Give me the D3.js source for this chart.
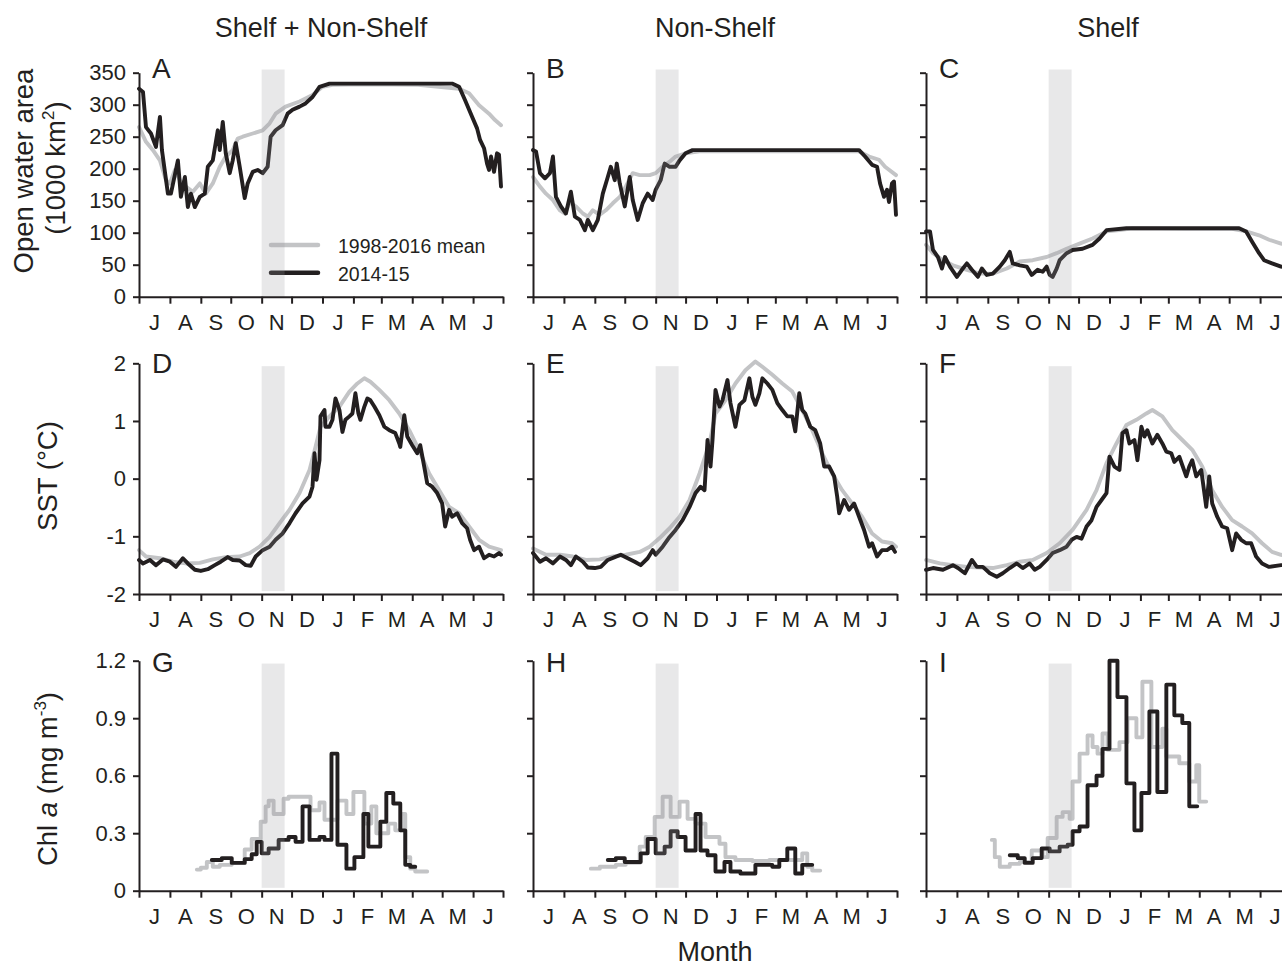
<!DOCTYPE html>
<html><head><meta charset="utf-8">
<script src="https://cdn.jsdelivr.net/npm/d3@7"></script>
<style>
body{margin:0;background:#fff}
svg{display:block}
text{font-family:"Liberation Sans",Arial,Helvetica,sans-serif;fill:#231f20}
</style>
</head><body>
<svg id="chart" width="1282" height="966"></svg>
<script>
// ---------- categories / labels ----------
const months = ["J","A","S","O","N","D","J","F","M","A","M","J"];
const columnTitles = ["Shelf + Non-Shelf","Non-Shelf","Shelf"];
const panelLetters = [["A","B","C"],["D","E","F"],["G","H","I"]];
const seriesNames = ["1998-2016 mean","2014-15"];
const areaTicks = [0,50,100,150,200,250,300,350];
const sstTicks = [-2,-1,0,1,2];
const chlTicks = [0,0.3,0.6,0.9,1.2];
const bandDays = [123,146]; // shaded period (days since 1 July 2014)

// ---------- data: [days since 1 July 2014, value] ----------
// Open water area (1000 km2)
const areaAll1415 = [[0,325],[4,320],[7,265],[12,255],[17,234],[21,281],[23,229],[29,161],[32,161],[39,213],[42,156],[46,187],[49,140],[52,161],[56,140],[61,156],[66,161],[69,203],[74,213],[79,260],[81,229],[84,273],[87,224],[91,193],[94,213],[97,240],[101,203],[106,154],[109,177],[114,195],[119,198],[124,193],[129,203],[132,250],[137,260],[144,268],[149,286],[154,292],[161,297],[167,302],[174,312],[181,328],[191,333],[250,333],[290,333],[314,333],[321,328],[327,307],[334,281],[339,263],[342,245],[346,232],[349,208],[351,198],[353,219],[356,195],[359,224],[361,222],[363,172]];
const areaAllMean = [[0,265],[7,242],[14,229],[21,213],[27,182],[31,177],[36,198],[41,182],[47,172],[54,164],[61,177],[67,161],[74,177],[81,203],[87,219],[94,229],[99,247],[104,250],[114,255],[124,260],[131,271],[137,286],[147,297],[161,305],[174,315],[184,328],[194,331],[227,332],[280,331],[321,325],[331,318],[341,299],[351,286],[357,276],[363,268]];
const areaNon1415 = [[0,229],[3,227],[7,193],[12,185],[17,193],[20,219],[23,156],[28,141],[33,130],[38,164],[42,125],[47,120],[52,104],[55,120],[60,104],[65,120],[70,161],[75,187],[78,203],[82,182],[84,208],[87,177],[92,141],[97,187],[100,151],[105,120],[110,146],[115,161],[120,151],[123,167],[128,182],[132,208],[137,203],[143,203],[147,213],[153,224],[160,229],[250,229],[327,229],[333,219],[340,206],[345,203],[348,177],[352,156],[355,167],[357,148],[360,177],[362,180],[364,128]];
const areaNonMean = [[0,187],[7,172],[13,161],[20,151],[27,135],[32,130],[37,148],[43,141],[50,130],[55,125],[60,135],[67,128],[73,135],[80,146],[87,156],[93,172],[100,193],[107,190],[117,190],[123,193],[130,203],[137,211],[143,219],[153,224],[167,227],[250,227],[327,227],[337,219],[347,214],[353,203],[364,190]];
const areaShelf1415 = [[0,102],[4,102],[7,73],[12,62],[16,44],[19,62],[24,47],[31,31],[36,42],[41,52],[46,42],[52,31],[56,44],[61,34],[67,36],[74,47],[79,57],[84,70],[87,52],[94,49],[101,47],[106,34],[112,42],[117,39],[121,47],[124,34],[127,31],[131,44],[134,57],[141,68],[147,73],[157,75],[167,81],[174,91],[181,104],[201,107],[260,107],[314,107],[321,102],[327,86],[334,68],[339,57],[347,52],[356,47],[364,46]];
const areaShelfMean = [[0,81],[7,68],[17,57],[27,49],[41,42],[54,36],[67,36],[81,44],[94,55],[107,57],[121,62],[131,68],[141,75],[154,83],[167,91],[181,102],[194,104],[207,107],[260,106],[307,106],[321,102],[334,96],[344,89],[356,83],[364,80]];

// SST (°C)
const sstAll1415 = [[0,-1.41],[4,-1.47],[11,-1.41],[17,-1.50],[24,-1.40],[31,-1.44],[37,-1.53],[44,-1.38],[49,-1.47],[56,-1.58],[62,-1.60],[69,-1.57],[76,-1.50],[82,-1.44],[89,-1.36],[94,-1.41],[101,-1.42],[107,-1.50],[112,-1.51],[117,-1.35],[124,-1.24],[131,-1.18],[137,-1.06],[144,-0.95],[151,-0.77],[157,-0.60],[164,-0.43],[171,-0.31],[174,-0.14],[176,0.44],[178,-0.02],[181,0.32],[182,1.08],[186,1.19],[187,0.90],[191,0.90],[194,1.02],[197,1.39],[201,1.19],[204,0.81],[207,1.02],[211,1.08],[214,1.13],[217,1.48],[220,1.13],[222,1.02],[226,1.25],[229,1.39],[232,1.36],[236,1.25],[241,1.10],[246,0.90],[251,0.84],[257,0.79],[261,0.61],[262,0.55],[266,1.10],[269,0.73],[274,0.58],[279,0.44],[282,0.58],[286,0.21],[289,-0.08],[294,-0.14],[299,-0.25],[304,-0.43],[307,-0.83],[311,-0.54],[314,-0.66],[319,-0.60],[324,-0.77],[329,-0.86],[332,-1.06],[336,-1.24],[341,-1.18],[346,-1.38],[351,-1.32],[356,-1.35],[361,-1.29],[363,-1.32]];
const sstAllMean = [[0,-1.24],[7,-1.35],[21,-1.38],[34,-1.44],[47,-1.47],[61,-1.46],[74,-1.40],[87,-1.36],[101,-1.35],[111,-1.29],[121,-1.18],[131,-1.01],[141,-0.77],[151,-0.54],[161,-0.25],[171,0.15],[177,0.55],[182,0.90],[191,1.08],[201,1.25],[211,1.51],[219,1.65],[226,1.74],[232,1.68],[241,1.54],[251,1.36],[261,1.13],[271,0.84],[281,0.49],[291,0.09],[301,-0.20],[311,-0.49],[321,-0.60],[331,-0.83],[341,-1.06],[351,-1.18],[363,-1.24]];
const sstNon1415 = [[0,-1.29],[7,-1.44],[13,-1.38],[20,-1.47],[27,-1.35],[33,-1.41],[38,-1.50],[43,-1.35],[50,-1.44],[55,-1.54],[62,-1.55],[68,-1.53],[75,-1.41],[82,-1.36],[88,-1.32],[95,-1.38],[102,-1.44],[108,-1.50],[115,-1.38],[120,-1.24],[123,-1.32],[130,-1.18],[137,-1.01],[143,-0.89],[150,-0.72],[157,-0.49],[163,-0.25],[168,-0.14],[172,-0.20],[175,0.67],[178,0.21],[180,0.67],[183,1.54],[187,1.25],[190,1.36],[195,1.71],[198,1.31],[203,0.90],[207,1.28],[212,1.36],[217,1.74],[220,1.42],[223,1.28],[227,1.48],[230,1.74],[235,1.65],[240,1.54],[245,1.31],[250,1.19],[255,1.08],[260,1.08],[263,0.82],[267,1.48],[270,1.19],[273,1.13],[278,0.90],[283,0.84],[288,0.61],[292,0.21],[297,0.21],[302,0.04],[305,-0.31],[307,-0.60],[312,-0.37],[317,-0.54],[322,-0.43],[327,-0.66],[332,-0.89],[337,-1.18],[340,-1.12],[345,-1.35],[350,-1.24],[355,-1.24],[360,-1.18],[363,-1.27]];
const sstNonMean = [[0,-1.21],[13,-1.32],[27,-1.32],[40,-1.35],[53,-1.41],[67,-1.40],[80,-1.35],[93,-1.32],[107,-1.27],[117,-1.18],[127,-1.03],[137,-0.86],[147,-0.66],[157,-0.37],[167,0.09],[177,0.61],[183,1.13],[193,1.36],[203,1.65],[213,1.88],[223,2.03],[230,1.94],[240,1.80],[250,1.65],[260,1.51],[270,1.19],[280,0.84],[290,0.44],[300,0.09],[310,-0.20],[320,-0.43],[330,-0.66],[340,-0.95],[350,-1.09],[360,-1.12],[364,-1.18]];
const sstShelf1415 = [[0,-1.58],[7,-1.55],[17,-1.58],[27,-1.50],[32,-1.55],[39,-1.64],[46,-1.41],[51,-1.53],[57,-1.53],[64,-1.64],[71,-1.70],[77,-1.64],[84,-1.55],[91,-1.47],[97,-1.55],[104,-1.47],[109,-1.58],[114,-1.53],[121,-1.41],[127,-1.29],[134,-1.24],[141,-1.18],[146,-1.06],[151,-1.01],[156,-1.04],[161,-0.83],[166,-0.72],[171,-0.49],[176,-0.37],[181,-0.25],[184,0.38],[189,0.21],[194,0.15],[197,0.79],[201,0.84],[204,0.61],[209,0.67],[212,0.32],[216,0.90],[219,0.73],[222,0.84],[227,0.61],[232,0.76],[237,0.61],[241,0.47],[246,0.44],[249,0.29],[254,0.38],[261,0.04],[264,0.21],[267,0.32],[271,0.04],[276,0.15],[281,-0.49],[284,0.04],[287,-0.43],[292,-0.66],[297,-0.83],[302,-0.86],[307,-1.24],[311,-0.95],[316,-1.06],[321,-1.12],[326,-1.12],[331,-1.35],[337,-1.47],[344,-1.53],[356,-1.50],[364,-1.50]];
const sstShelfMean = [[0,-1.41],[14,-1.47],[27,-1.50],[41,-1.53],[54,-1.54],[67,-1.55],[81,-1.50],[94,-1.44],[107,-1.41],[121,-1.29],[134,-1.12],[147,-0.89],[161,-0.54],[171,-0.20],[181,0.27],[191,0.61],[201,0.93],[211,1.02],[221,1.13],[227,1.19],[237,1.08],[247,0.84],[257,0.67],[267,0.50],[277,0.21],[287,-0.20],[297,-0.49],[307,-0.72],[317,-0.83],[327,-0.95],[337,-1.12],[347,-1.27],[356,-1.32],[364,-1.34]];

// Chl a (mg m-3), step composites [start day, value]
const chlAll1415 = [[73,0.16],[83,0.17],[93,0.145],[106,0.165],[113,0.19],[118,0.255],[123,0.195],[130,0.22],[140,0.265],[150,0.28],[157,0.255],[164,0.44],[171,0.265],[181,0.28],[186,0.265],[193,0.715],[199,0.24],[208,0.115],[216,0.175],[225,0.40],[230,0.23],[242,0.36],[248,0.51],[255,0.455],[262,0.315],[267,0.135],[272,0.125],[277,0.125]];
const chlAllMean = [[58,0.11],[62,0.12],[68,0.15],[74,0.125],[81,0.135],[93,0.145],[106,0.215],[113,0.27],[122,0.36],[127,0.44],[130,0.47],[135,0.40],[145,0.48],[150,0.49],[172,0.42],[181,0.46],[186,0.37],[199,0.47],[208,0.40],[215,0.515],[226,0.35],[233,0.44],[238,0.30],[250,0.35],[257,0.315],[263,0.40],[267,0.175],[272,0.115],[277,0.10],[289,0.10]];
const chlNon1415 = [[75,0.16],[83,0.17],[92,0.15],[108,0.195],[115,0.27],[123,0.195],[132,0.23],[138,0.31],[145,0.28],[153,0.21],[163,0.40],[168,0.21],[175,0.185],[183,0.10],[192,0.15],[198,0.10],[208,0.09],[223,0.135],[240,0.125],[247,0.16],[255,0.22],[263,0.09],[270,0.135],[280,0.135]];
const chlNonMean = [[58,0.115],[67,0.125],[83,0.135],[93,0.145],[107,0.23],[113,0.28],[122,0.385],[130,0.49],[138,0.385],[147,0.465],[155,0.375],[163,0.35],[173,0.28],[187,0.245],[193,0.175],[203,0.16],[220,0.155],[237,0.16],[253,0.16],[270,0.195],[275,0.125],[280,0.105],[288,0.105]];
const chlShelf1415 = [[84,0.185],[92,0.17],[99,0.145],[107,0.17],[116,0.22],[124,0.205],[134,0.23],[142,0.24],[147,0.31],[154,0.335],[162,0.55],[171,0.60],[177,0.74],[184,1.20],[192,1.01],[201,0.56],[209,0.315],[216,0.51],[224,0.935],[232,0.515],[241,1.075],[249,0.915],[257,0.875],[264,0.44],[272,0.44]];
const chlShelfMean = [[66,0.265],[69,0.175],[74,0.125],[84,0.14],[94,0.15],[106,0.21],[117,0.175],[122,0.275],[131,0.385],[137,0.41],[144,0.375],[147,0.57],[154,0.715],[162,0.81],[167,0.75],[172,0.715],[177,0.82],[182,0.735],[194,0.775],[202,0.90],[211,0.80],[217,1.09],[226,0.75],[237,0.845],[241,0.70],[254,0.665],[264,0.57],[271,0.655],[274,0.465],[281,0.465]];

// ---------- layout ----------
const INK = "#231f20", MEANC = "#c3c4c6";
const colX = [139, 533, 926];
const panelW = 364;
const rows = [
  {domain:[0,350], range:[296.7,72.7], ticks:areaTicks, fmt:d=>String(d), band:[0,355], step:false, letterDy:5,
   series:[[areaAllMean,areaAll1415],[areaNonMean,areaNon1415],[areaShelfMean,areaShelf1415]]},
  {domain:[-2,2], range:[594,363.3], ticks:sstTicks, fmt:d=>(d<0?"-"+Math.abs(d):String(d)), band:[-1.95,1.95], step:false, letterDy:10,
   series:[[sstAllMean,sstAll1415],[sstNonMean,sstNon1415],[sstShelfMean,sstShelf1415]]},
  {domain:[0,1.2], range:[890.7,660.7], ticks:chlTicks, fmt:d=>(d===0?"0":d.toFixed(1)), band:[0.015,1.185], step:true, letterDy:11,
   series:[[chlAllMean,chlAll1415],[chlNonMean,chlNon1415],[chlShelfMean,chlShelf1415]]}
];

const t0 = Date.UTC(2014,6,1);
const start = new Date(t0), end = new Date(Date.UTC(2015,6,1));
const toDate = d => new Date(t0 + d*864e5);
const monthStarts = d3.utcMonth.range(start, d3.utcDay.offset(end,1));

const svg = d3.select("#chart");

rows.forEach((row, r) => {
  colX.forEach((x0, c) => {
    const x = d3.scaleUtc().domain([start,end]).range([x0, x0+panelW]);
    const y = d3.scaleLinear().domain(row.domain).range(row.range);
    const g = svg.append("g");

    // series
    const line = d3.line()
      .x(d => x(toDate(d[0])))
      .y(d => y(d[1]))
      .curve(row.step ? d3.curveStepAfter : d3.curveLinear);
    const [meanData, yrData] = row.series[c];
    g.append("path").attr("d", line(meanData)).attr("fill","none")
      .attr("stroke", MEANC).attr("stroke-width", 3.9).attr("stroke-linejoin","round").attr("stroke-linecap","round");
    g.append("path").attr("d", line(yrData)).attr("fill","none")
      .attr("stroke", INK).attr("stroke-width", 3.9).attr("stroke-linejoin","round").attr("stroke-linecap","round");

    // legend (panel A)
    if (r===0 && c===0) {
      const lg = g.append("g");
      [[MEANC,245,seriesNames[0]],[INK,272.7,seriesNames[1]]].forEach(([col,ly,label]) => {
        lg.append("line").attr("x1", x0+132).attr("x2", x0+179).attr("y1", ly).attr("y2", ly)
          .attr("stroke", col).attr("stroke-width", 4.5).attr("stroke-linecap","round");
        lg.append("text").attr("x", x0+199).attr("y", ly+8).attr("font-size", 19.5).text(label);
      });
    }

    // shaded period (drawn on top, translucent)
    g.append("rect")
      .attr("x", x(toDate(bandDays[0]))).attr("width", x(toDate(bandDays[1])) - x(toDate(bandDays[0])))
      .attr("y", y(row.band[1])).attr("height", y(row.band[0]) - y(row.band[1]))
      .attr("fill", "#9a9c9e").attr("fill-opacity", 0.23);

    // axes
    const yAxis = d3.axisLeft(y).tickValues(row.ticks).tickSize(6).tickPadding(7).tickSizeOuter(0)
      .tickFormat(c===0 ? row.fmt : () => "");
    const ya = g.append("g").attr("transform", `translate(${x0},0)`).call(yAxis);
    const xAxis = d3.axisBottom(x).tickValues(monthStarts).tickSize(7).tickSizeOuter(0).tickFormat(() => "");
    const xa = g.append("g").attr("transform", `translate(0,${row.range[0]})`).call(xAxis);
    [ya, xa].forEach(a => {
      a.attr("font-family", null).attr("font-size", null);
      a.selectAll(".domain").attr("stroke", INK).attr("stroke-width", 2);
      a.selectAll(".tick line").attr("stroke", INK).attr("stroke-width", 2);
      a.selectAll(".tick text").attr("font-size", 22).attr("fill", INK);
    });

    // month labels centred in each month
    months.forEach((m, i) => {
      const mx = (x(monthStarts[i]) + x(monthStarts[i+1])) / 2;
      g.append("text").attr("x", mx).attr("y", row.range[0] + 33)
        .attr("text-anchor","middle").attr("font-size", 22).text(m);
    });

    // panel letter
    g.append("text").attr("x", x0 + 13).attr("y", row.range[1] + row.letterDy)
      .attr("font-size", 28).text(panelLetters[r][c]);
  });
});

// column titles
columnTitles.forEach((t, c) => {
  svg.append("text").attr("x", colX[c] + panelW/2).attr("y", 37)
    .attr("text-anchor","middle").attr("font-size", 27).text(t);
});

// y-axis titles
svg.append("text").attr("transform","translate(33,171) rotate(-90)")
  .attr("text-anchor","middle").attr("font-size", 27.5).text("Open water area");
const t2 = svg.append("text").attr("transform","translate(65,168) rotate(-90)")
  .attr("text-anchor","middle").attr("font-size", 27.5);
t2.append("tspan").text("(1000 km");
t2.append("tspan").attr("font-size", 17).attr("dy", -11).text("2");
t2.append("tspan").attr("dy", 11).text(")");
svg.append("text").attr("transform","translate(57,476) rotate(-90)")
  .attr("text-anchor","middle").attr("font-size", 27.5).text("SST (°C)");
const t3 = svg.append("text").attr("transform","translate(57,779) rotate(-90)")
  .attr("text-anchor","middle").attr("font-size", 27.5);
t3.append("tspan").text("Chl ");
t3.append("tspan").attr("font-style","italic").text("a");
t3.append("tspan").text(" (mg m");
t3.append("tspan").attr("font-size", 17).attr("dy", -11).text("-3");
t3.append("tspan").attr("dy", 11).text(")");

// x-axis title
svg.append("text").attr("x", colX[1] + panelW/2).attr("y", 961)
  .attr("text-anchor","middle").attr("font-size", 27).text("Month");
</script>
</body></html>
